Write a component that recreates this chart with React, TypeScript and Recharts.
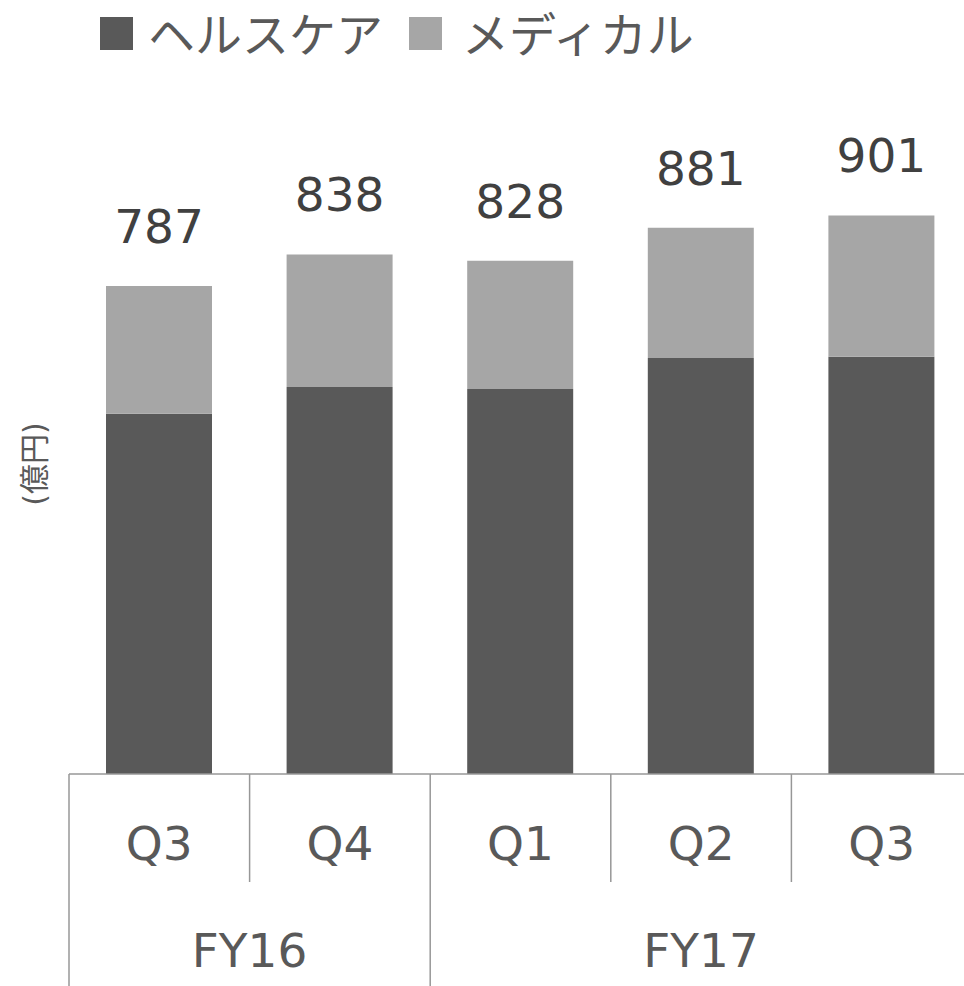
import { BarChart, Bar, XAxis, YAxis, LabelList, Legend } from 'recharts';

const quarters = ['Q3', 'Q4', 'Q1', 'Q2', 'Q3'];
const fiscalYears = [
  { label: 'FY16', count: 2 },
  { label: 'FY17', count: 3 },
];
const healthcare = [581, 624, 621, 671, 673];
const medical = [206, 214, 207, 210, 228];

const data = quarters.map((q, i) => ({
  quarter: q,
  healthcare: healthcare[i],
  medical: medical[i],
  total: healthcare[i] + medical[i],
}));

const FONT = "'DejaVu Sans', 'Noto Sans CJK JP', sans-serif";
const DARK = '#595959';
const LIGHT = '#a6a6a6';
const LINE = '#979797';
const FS = 47;

const CHART_W = 972;
const CHART_H = 986;
const LEFT = 69;
const BAND = (CHART_W - LEFT) / quarters.length;

// group start index for each fiscal year
const groupStarts: Record<number, { label: string; count: number }> = {};
let acc = 0;
fiscalYears.forEach((g) => {
  groupStarts[acc] = g;
  acc += g.count;
});

function QuarterTick(props: any) {
  const { x, y, payload } = props;
  const index = props.index ?? payload.index;
  const left = x - BAND / 2;
  const group = groupStarts[index];
  const isLast = index === quarters.length - 1;
  return (
    <g>
      <line x1={left} y1={y} x2={left} y2={group ? y + 212 : y + 108} stroke={LINE} strokeWidth={1.5} />
      {isLast && <line x1={left + BAND} y1={y} x2={left + BAND} y2={y + 212} stroke={LINE} strokeWidth={1.5} />}
      <text x={x} y={y + 86} textAnchor="middle" fill={DARK} fontSize={FS} fontFamily={FONT}>
        {payload.value}
      </text>
      {group && (
        <text x={left + (group.count * BAND) / 2} y={y + 193} textAnchor="middle" fill={DARK} fontSize={FS} fontFamily={FONT}>
          {group.label}
        </text>
      )}
    </g>
  );
}

function TotalLabel(props: any) {
  const { x, y, width, value } = props;
  return (
    <text x={x + width / 2} y={y - 43} textAnchor="middle" fill="#404040" fontSize={FS} fontFamily={FONT}>
      {value}
    </text>
  );
}

function UnitLabel(props: any) {
  const { viewBox } = props;
  const cx = viewBox.x + 34;
  const cy = viewBox.y + viewBox.height / 2;
  return (
    <text
      x={cx}
      y={cy}
      transform={`rotate(-90, ${cx}, ${cy})`}
      textAnchor="middle"
      dominantBaseline="central"
      fill={DARK}
      fontSize={30}
      fontFamily={FONT}
    >
      (億円)
    </text>
  );
}

function LegendContent(props: any) {
  const { payload } = props;
  return (
    <div style={{ display: 'flex', alignItems: 'center', fontFamily: FONT, fontSize: FS, lineHeight: '47px', color: DARK }}>
      {(payload || []).map((item: any, i: number) => (
        <div key={i} style={{ display: 'flex', alignItems: 'center', marginRight: 26 }}>
          <span style={{ display: 'inline-block', width: 33, height: 33, background: item.color, marginRight: i === 0 ? 15 : 20 }} />
          <span style={{ whiteSpace: 'nowrap', position: 'relative', top: 2 }}>{item.value}</span>
        </div>
      ))}
    </div>
  );
}

export default function App() {
  return (
    <div style={{ position: 'absolute', left: 0, top: 0, width: 964, height: 986, overflow: 'hidden', background: '#fff' }}>
      <BarChart width={CHART_W} height={CHART_H} data={data} margin={{ top: 154, right: 0, left: 0, bottom: 0 }}>
        <XAxis
          dataKey="quarter"
          height={212}
          stroke={LINE}
          axisLine={{ stroke: LINE, strokeWidth: 1.5 }}
          tickLine={false}
          tickSize={0}
          tickMargin={0}
          interval={0}
          tick={<QuarterTick />}
        />
        <YAxis
          width={LEFT}
          domain={[0, 1000]}
          axisLine={false}
          tickLine={false}
          tick={false}
          label={<UnitLabel />}
        />
        <Legend
          verticalAlign="middle"
          align="center"
          layout="horizontal"
          wrapperStyle={{ top: 10, left: 100, width: 'auto' }}
          content={<LegendContent />}
        />
        <Bar dataKey="healthcare" name="ヘルスケア" stackId="a" fill={DARK} barSize={106} isAnimationActive={false} />
        <Bar dataKey="medical" name="メディカル" stackId="a" fill={LIGHT} barSize={106} isAnimationActive={false}>
          <LabelList dataKey="total" content={<TotalLabel />} />
        </Bar>
      </BarChart>
    </div>
  );
}
